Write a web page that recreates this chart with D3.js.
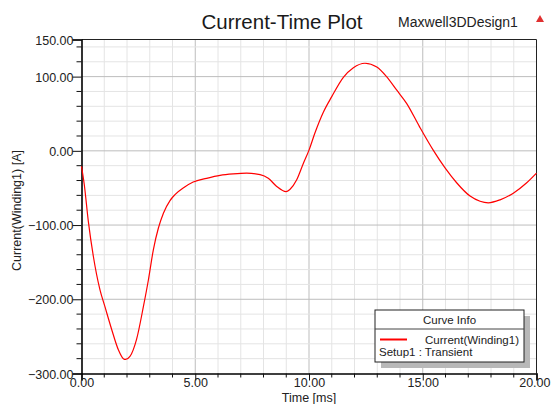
<!DOCTYPE html>
<html>
<head>
<meta charset="utf-8">
<script src="https://cdn.jsdelivr.net/npm/d3@7"></script>
<style>
  body { margin: 0; background: #ffffff; }
  svg { display: block; }
  text { font-family: "Liberation Sans", Arial, sans-serif; }
</style>
</head>
<body>
<script>
var w = 551,
    h = 404;

// time [ms] and current [A]
var timeMs = [0, 0.12, 0.3, 0.52, 0.81, 1.03, 1.33, 1.62, 1.84, 1.94, 2.13, 2.42, 2.72, 2.94, 3.16,
  3.38, 3.6, 3.89, 4.11, 4.52, 4.91, 5.5, 6.09, 6.67, 7.26, 7.85, 8.21, 8.58, 8.99, 9.16, 9.46,
  9.75, 10.0, 10.26, 10.63, 11.0, 11.51, 11.95, 12.46, 12.98, 13.41, 13.85, 14.29, 14.85, 15.46,
  15.98, 16.49, 17.08, 17.52, 17.88, 18.4, 18.98, 19.57, 20.0];
var currentA = [-21, -45, -95, -142, -187, -210, -241, -268, -280, -281, -277, -254, -210, -174, -133,
  -104, -84, -67, -59, -49, -42, -37, -33, -31, -30, -32, -37, -48, -55, -52, -39,
  -17, 1, 24, 52, 73, 99, 112, 118, 113, 100, 82, 64, 33, 1,
  -23, -43, -61, -68, -70, -66, -57, -43, -30];

var xTicks = [0, 5, 10, 15, 20];
var yTicks = [-300, -200, -100, 0, 100, 150];

var title = "Current-Time Plot",
    design = "Maxwell3DDesign1",
    xLabel = "Time [ms]",
    yLabel = "Current(Winding1) [A]",
    legendTitle = "Curve Info",
    seriesName = "Current(Winding1)",
    setupName = "Setup1 : Transient";

var m = {left: 81.5, right: 536.5, top: 39.5, bottom: 373.5};

var x = d3.scaleLinear().domain([0, 20]).range([m.left, m.right]);
var y = d3.scaleLinear().domain([-300, 150]).range([m.bottom, m.top]);

var svg = d3.select("body").append("svg")
  .attr("width", w)
  .attr("height", h);

// grid
var xMinor = d3.range(1, 20, 1);
var yMinor = d3.range(-280, 150, 20);

svg.append("g").selectAll("line").data(xMinor)
  .enter().append("line")
  .attr("x1", function(d) { return x(d); })
  .attr("x2", function(d) { return x(d); })
  .attr("y1", m.top)
  .attr("y2", m.bottom)
  .attr("stroke", function(d) { return d % 5 == 0 ? "#bdbdbd" : "#e4e4e4"; })
  .attr("stroke-width", 1);

svg.append("g").selectAll("line").data(yMinor)
  .enter().append("line")
  .attr("x1", m.left)
  .attr("x2", m.right)
  .attr("y1", function(d) { return y(d); })
  .attr("y2", function(d) { return y(d); })
  .attr("stroke", function(d) { return d % 100 == 0 ? "#bdbdbd" : "#e4e4e4"; })
  .attr("stroke-width", 1);

// frame
svg.append("line").attr("x1", m.left).attr("x2", m.right).attr("y1", m.top).attr("y2", m.top)
  .attr("stroke", "#222").attr("stroke-width", 1);
svg.append("line").attr("x1", m.right).attr("x2", m.right).attr("y1", m.top).attr("y2", m.bottom)
  .attr("stroke", "#222").attr("stroke-width", 1);

// axes
var xAxis = d3.axisBottom(x).tickValues(xTicks).tickSize(7).tickFormat(d3.format(".2f"));
var yAxis = d3.axisLeft(y).tickValues(yTicks).tickSize(9).tickFormat(d3.format(".2f"));

var gx = svg.append("g").attr("transform", "translate(0," + m.bottom + ")").call(xAxis);
var gy = svg.append("g").attr("transform", "translate(" + m.left + ",0)").call(yAxis);

// minor ticks
svg.append("g").selectAll("line").data(xMinor.filter(function(d) { return d % 5 != 0; }))
  .enter().append("line")
  .attr("x1", function(d) { return x(d); })
  .attr("x2", function(d) { return x(d); })
  .attr("y1", m.bottom)
  .attr("y2", m.bottom + 4)
  .attr("stroke", "#111");
svg.append("g").selectAll("line").data(yMinor.filter(function(d) { return d % 100 != 0; }))
  .enter().append("line")
  .attr("x1", m.left - 5)
  .attr("x2", m.left)
  .attr("y1", function(d) { return y(d); })
  .attr("y2", function(d) { return y(d); })
  .attr("stroke", "#111");

[gx, gy].forEach(function(g) {
  g.select(".domain").attr("stroke", "#000").attr("stroke-width", 1.6);
  g.selectAll(".tick line").attr("stroke", "#111");
  g.selectAll(".tick text")
    .attr("font-size", "12.5px")
    .attr("font-family", "Liberation Sans, Arial, sans-serif")
    .attr("fill", "#222");
});
gx.selectAll(".tick text").attr("dy", "0.55em").attr("y", 7);
// last label sits against the right edge
gx.selectAll(".tick text").filter(function(d) { return d == 20; })
  .attr("text-anchor", "end").attr("x", 550 - m.right);
gy.selectAll(".tick text").attr("x", -8).attr("dy", "0.36em");

// curve
var line = d3.line()
  .x(function(d, i) { return x(timeMs[i]); })
  .y(function(d) { return y(d); })
  .curve(d3.curveMonotoneX);

svg.append("path")
  .datum(currentA)
  .attr("d", line)
  .attr("fill", "none")
  .attr("stroke", "#ff0000")
  .attr("stroke-width", 1.2);

// titles
svg.append("text").text(title)
  .attr("x", 282).attr("y", 29)
  .attr("text-anchor", "middle")
  .attr("font-size", "20.5px")
  .attr("fill", "#1a1a1a");
svg.append("text").text(design)
  .attr("x", 458).attr("y", 27)
  .attr("text-anchor", "middle")
  .attr("font-size", "14px")
  .attr("fill", "#222");

// small warning glyph
svg.append("path")
  .attr("d", "M540,15 L544,22 L536,22 Z")
  .attr("fill", "#e03030");

svg.append("text").text(xLabel)
  .attr("x", x(10)).attr("y", 402)
  .attr("text-anchor", "middle")
  .attr("font-size", "12.5px")
  .attr("fill", "#222");
svg.append("text").text(yLabel)
  .attr("transform", "translate(21," + ((m.top + m.bottom) / 2 + 4) + ") rotate(-90)")
  .attr("text-anchor", "middle")
  .attr("font-size", "12.5px")
  .attr("fill", "#222");

// legend
var lg = {x: 375, y: 310, w: 149, h: 52};
svg.append("rect")
  .attr("x", lg.x + 6).attr("y", lg.y + 6)
  .attr("width", lg.w).attr("height", lg.h)
  .attr("fill", "#b8b8b8");
svg.append("rect")
  .attr("x", lg.x).attr("y", lg.y)
  .attr("width", lg.w).attr("height", lg.h)
  .attr("fill", "#ffffff")
  .attr("stroke", "#222");
svg.append("line")
  .attr("x1", lg.x).attr("x2", lg.x + lg.w)
  .attr("y1", lg.y + 19).attr("y2", lg.y + 19)
  .attr("stroke", "#444");
svg.append("text").text(legendTitle)
  .attr("x", lg.x + lg.w / 2).attr("y", lg.y + 14)
  .attr("text-anchor", "middle")
  .attr("font-size", "11.5px")
  .attr("fill", "#222");
svg.append("line")
  .attr("x1", lg.x + 5).attr("x2", lg.x + 32)
  .attr("y1", lg.y + 29.5).attr("y2", lg.y + 29.5)
  .attr("stroke", "#ff0000")
  .attr("stroke-width", 2);
svg.append("text").text(seriesName)
  .attr("x", lg.x + 144).attr("y", lg.y + 33.5)
  .attr("text-anchor", "end")
  .attr("font-size", "11.5px")
  .attr("fill", "#222");
svg.append("text").text(setupName)
  .attr("x", lg.x + 4).attr("y", lg.y + 46)
  .attr("font-size", "11.5px")
  .attr("fill", "#222");
</script>
</body>
</html>
